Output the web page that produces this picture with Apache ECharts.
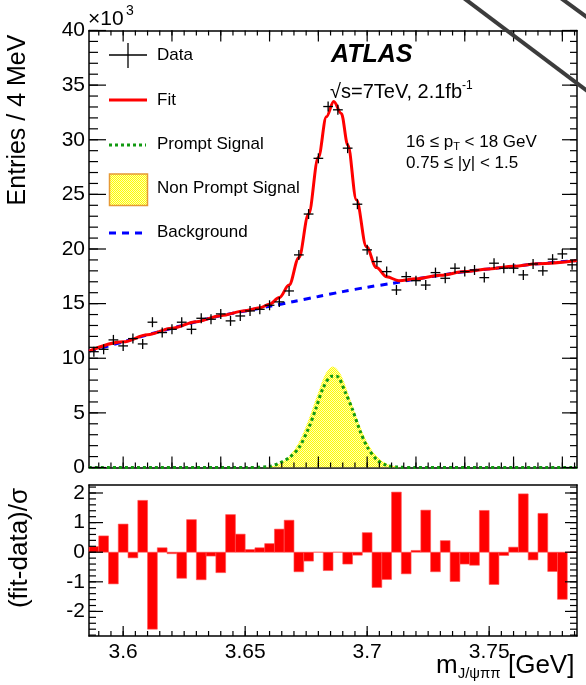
<!DOCTYPE html>
<html><head><meta charset="utf-8">
<script src="https://cdn.jsdelivr.net/npm/echarts@6/dist/echarts.min.js"></script>
<style>html,body{margin:0;padding:0;background:#fff}#c{width:586px;height:685px}</style>
</head><body><div id="c"></div>
<script>
// ---- data ----
const massX = [3.588,3.592,3.596,3.600,3.604,3.608,3.612,3.616,3.620,3.624,3.628,3.632,3.636,3.640,3.644,3.648,3.652,3.656,3.660,3.664,3.668,3.672,3.676,3.680,3.684,3.688,3.692,3.696,3.700,3.704,3.708,3.712,3.716,3.720,3.724,3.728,3.732,3.736,3.740,3.744,3.748,3.752,3.756,3.760,3.764,3.768,3.772,3.776,3.780,3.784];
const dataY = [10.6,10.82,11.68,11.13,11.8,11.31,13.3,12.35,12.65,13.3,12.65,13.66,13.57,14.06,13.42,13.87,14.33,14.48,14.85,15.16,16.16,19.46,23.2,28.3,33.04,32.74,29.23,24.1,19.92,18.85,17.93,16.25,17.47,17.1,16.7,17.84,17.32,18.24,17.93,18.08,17.38,18.7,18.24,18.24,17.63,18.63,18.0,19.07,19.55,18.55];
const residuals = [0.19,0.55,-1.07,0.95,-0.19,1.75,-2.6,0.15,-0.05,-0.88,1.1,-0.93,-0.13,-0.69,1.27,0.61,0.09,0.15,0.29,0.78,1.08,-0.66,-0.3,0,-0.62,0,-0.4,-0.1,0.66,-1.19,-0.92,2.03,-0.73,0.06,1.42,-0.66,0.39,-0.99,-0.4,-0.44,1.41,-1.09,-0.11,0.17,1.97,-0.26,1.31,-0.65,-1.59,0];
const fitX = [3.586,3.600,3.610,3.620,3.630,3.640,3.650,3.656,3.660,3.664,3.668,3.672,3.676,3.680,3.6833,3.6863,3.6894,3.6921,3.6956,3.6997,3.7038,3.708,3.713,3.720,3.730,3.740,3.750,3.760,3.770,3.786];
const fitY = [10.65,11.5,12.15,12.75,13.35,13.9,14.35,14.62,14.95,15.55,16.7,19.2,23.2,28.4,32.1,33.5,32.4,29.5,24.5,20.2,18.3,17.45,17.1,17.27,17.6,17.93,18.18,18.42,18.65,18.94];
const bgX = [3.586,3.600,3.610,3.620,3.630,3.640,3.650,3.660,3.670,3.680,3.690,3.700,3.710,3.720,3.730,3.740,3.750,3.760,3.770,3.786];
const bgY = [10.65,11.5,12.15,12.75,13.35,13.9,14.33,14.75,15.2,15.65,16.1,16.5,16.85,17.25,17.6,17.93,18.18,18.42,18.65,18.94];
const promptX = [3.586,3.650,3.660,3.664,3.668,3.672,3.676,3.679,3.682,3.6855,3.6875,3.691,3.694,3.697,3.700,3.704,3.708,3.712,3.720,3.786];
const promptY = [0,0,0.1,0.4,0.9,1.8,3.6,5.4,7.3,8.35,8.35,6.9,5.3,3.4,1.9,0.7,0.2,0.05,0,0];
const nonPromptX = [3.586,3.656,3.660,3.664,3.668,3.672,3.676,3.680,3.683,3.686,3.689,3.692,3.696,3.700,3.704,3.708,3.712,3.716,3.786];
const nonPromptY = [0,0,0.1,0.35,1.0,2.3,4.4,6.9,8.6,9.25,8.6,6.9,4.4,2.3,1.0,0.35,0.1,0,0];
const xTickLabels = [3.6,3.65,3.7,3.75];
const yTopTicks = [0,5,10,15,20,25,30,35,40];
const resTicks = [-2,-1,0,1,2];

// ---- layout / style ----
const FONT = '"Liberation Sans", Arial, Helvetica, sans-serif';
const X_MIN = 3.586, X_MAX = 3.786, BIN_HALF = 0.002;
const RES_MIN = -2.83, RES_MAX = 2.27;
const G_LEFT = 89, G_WIDTH = 488;
const TOP_Y = 30.5, TOP_H = 437, BOT_Y = 485, BOT_H = 151;
function steps(a, b, s) { const o = []; for (let v = a; v <= b + 1e-9; v += s) o.push(+v.toFixed(4)); return o; }
const xMajorTop = steps(3.60, 3.78, 0.02);
const xMinor = steps(3.590, 3.785, 0.005);
const yTopMinor = steps(0, 40, 1);
const resMinor = steps(-2.8, 2.2, 0.2);
function inList(list) { return v => list.some(t => Math.abs(t - v) < 1e-6); }

const pc = document.createElement('canvas'); pc.width = 2; pc.height = 2;
const pctx = pc.getContext('2d');
pctx.fillStyle = '#ffff00'; pctx.fillRect(0,0,2,2);
pctx.fillStyle = '#fffbb8'; pctx.fillRect(1,0,1,1); pctx.fillRect(0,1,1,1);
const yellowPattern = { image: pc, repeat: 'repeat' };

function axisBase(grid, pos, min, max) {
  return {
    type: 'value', gridIndex: grid, position: pos, min: min, max: max,
    axisLine: { show: true, onZero: false, lineStyle: { color: '#000', width: 1.5 } },
    axisTick: { show: false }, splitLine: { show: false }, axisLabel: { show: false }
  };
}
function withLabels(ax, list, margin) {
  const ok = inList(list);
  ax.axisLabel = { show: true, margin: margin, color: '#000', fontSize: 21, fontFamily: FONT,
    showMinLabel: false, showMaxLabel: false, formatter: v => ok(v) ? String(+v.toFixed(3)) : '' };
  return ax;
}

// ---- axis ticks (inside, mirrored) as graphic lines, placed on the grids' linear scales ----
const tickEls = [];
function xPix(v) { return G_LEFT + (v - X_MIN) / (X_MAX - X_MIN) * G_WIDTH; }
function yTopPix(v) { return TOP_Y + (40 - v) / 40 * TOP_H; }
function yResPix(v) { return BOT_Y + (RES_MAX - v) / (RES_MAX - RES_MIN) * BOT_H; }
function tl(x1, y1, x2, y2) {
  tickEls.push({ type: 'line', z: 60, shape: { x1: x1, y1: y1, x2: x2, y2: y2 }, style: { stroke: '#000', lineWidth: 1.2 } });
}
function xTicks(vals, yLo, yHi, lenLo, lenHi) {
  vals.forEach(v => { const x = xPix(v);
    if (lenLo > 0) tl(x, yLo, x, yLo - lenLo);
    if (lenHi > 0) tl(x, yHi, x, yHi + lenHi); });
}
function yTicks(vals, toPix, lenL, lenR) {
  const xL = G_LEFT, xR = G_LEFT + G_WIDTH;
  vals.forEach(v => { const y = toPix(v);
    if (lenL > 0) tl(xL, y, xL + lenL, y);
    if (lenR > 0) tl(xR, y, xR - lenR, y); });
}
xTicks(xMinor, TOP_Y + TOP_H, TOP_Y, 5, 5);
xTicks(xMajorTop, TOP_Y + TOP_H, TOP_Y, 11, 11);
yTicks(yTopMinor, yTopPix, 9, 7);
yTicks(yTopTicks, yTopPix, 17, 15);
xTicks(xMinor, BOT_Y + BOT_H, BOT_Y, 5, 0);
xTicks(xTickLabels, BOT_Y + BOT_H, BOT_Y, 10, 0);
yTicks(resMinor, yResPix, 7, 7);
yTicks(resTicks, yResPix, 14, 12);

const staticGraphic = [
  // legend
  { type: 'line', shape: { x1: 109, y1: 55, x2: 147, y2: 55 }, style: { stroke: '#000', lineWidth: 1.3 } },
  { type: 'line', shape: { x1: 128, y1: 43, x2: 128, y2: 68 }, style: { stroke: '#000', lineWidth: 1.3 } },
  { type: 'line', shape: { x1: 109, y1: 100, x2: 147, y2: 100 }, style: { stroke: '#ff0000', lineWidth: 3 } },
  { type: 'line', shape: { x1: 109, y1: 145, x2: 146, y2: 145 }, style: { stroke: '#119911', lineWidth: 3, lineDash: [3, 3] } },
  { type: 'rect', shape: { x: 109.5, y: 174, width: 38, height: 31.5 }, style: { fill: yellowPattern, stroke: '#e69a35', lineWidth: 1.5 } },
  { type: 'line', shape: { x1: 109, y1: 233, x2: 146, y2: 233 }, style: { stroke: '#0000ff', lineWidth: 3, lineDash: [7, 6] } },
  { type: 'text', x: 157, y: 55, style: { text: 'Data', font: '17px ' + FONT, fill: '#000', verticalAlign: 'middle' } },
  { type: 'text', x: 157, y: 100, style: { text: 'Fit', font: '17px ' + FONT, fill: '#000', verticalAlign: 'middle' } },
  { type: 'text', x: 157, y: 144.5, style: { text: 'Prompt Signal', font: '17px ' + FONT, fill: '#000', verticalAlign: 'middle' } },
  { type: 'text', x: 157, y: 188.5, style: { text: 'Non Prompt Signal', font: '17px ' + FONT, fill: '#000', verticalAlign: 'middle' } },
  { type: 'text', x: 157, y: 232.5, style: { text: 'Background', font: '17px ' + FONT, fill: '#000', verticalAlign: 'middle' } },
  // annotations
  { type: 'text', x: 331, y: 55, style: { text: 'ATLAS', font: 'italic bold 25px ' + FONT, fill: '#000', verticalAlign: 'middle' } },
  { type: 'text', x: 330, y: 80, style: { text: '{a|√s=7TeV, 2.1fb}{b|-1}', fill: '#000', verticalAlign: 'top',
      rich: { a: { fontSize: 20, lineHeight: 24, fontFamily: FONT, fill: '#000' }, b: { fontSize: 12, lineHeight: 12, verticalAlign: 'top', fontFamily: FONT, fill: '#000' } } } },
  { type: 'text', x: 406, y: 132, style: { text: '{a|16 ≤ p}{s|T}{a| < 18 GeV}', fill: '#000', verticalAlign: 'top',
      rich: { a: { fontSize: 17, lineHeight: 20, fontFamily: FONT, fill: '#000' }, s: { fontSize: 11, lineHeight: 11, verticalAlign: 'bottom', fontFamily: FONT, fill: '#000' } } } },
  { type: 'text', x: 406, y: 163, style: { text: '0.75 ≤ |y| < 1.5', font: '17px ' + FONT, fill: '#000', verticalAlign: 'middle' } },
  { type: 'text', x: 88, y: 19, style: { text: '×10', font: '21px ' + FONT, fill: '#000', verticalAlign: 'middle' } },
  { type: 'text', x: 126, y: 11, style: { text: '3', font: '14px ' + FONT, fill: '#000', verticalAlign: 'middle' } },
  { type: 'text', x: 18, y: 120, rotation: Math.PI / 2, style: { text: 'Entries / 4 MeV', font: '25px ' + FONT, fill: '#000', align: 'center', verticalAlign: 'middle' } },
  { type: 'text', x: 20, y: 548, rotation: Math.PI / 2, style: { text: '(fit-data)/σ', font: '26px ' + FONT, fill: '#000', align: 'center', verticalAlign: 'middle' } },
  { type: 'text', x: 436, y: 651, style: { text: '{a|m}{s|J/ψππ}{a| [GeV]}', fill: '#000', verticalAlign: 'top',
      rich: { a: { fontSize: 26, lineHeight: 30, fontFamily: FONT, fill: '#000' }, s: { fontSize: 15, lineHeight: 15, verticalAlign: 'bottom', fontFamily: FONT, fill: '#000' } } } }
].concat(tickEls).concat([
  // diagonal scan lines
  { type: 'line', z: 100, shape: { x1: 461, y1: -4, x2: 592, y2: 94.5 }, style: { stroke: '#3c3c3c', lineWidth: 4 } },
  { type: 'line', z: 100, shape: { x1: 558, y1: -4, x2: 592, y2: 21 }, style: { stroke: '#3c3c3c', lineWidth: 4 } }
]);

const yTopLeft = withLabels(axisBase(0, 'left', 0, 40), yTopTicks, 4);
yTopLeft.interval = 5; yTopLeft.axisLabel.showMinLabel = true; yTopLeft.axisLabel.showMaxLabel = true;
const yTopRight = axisBase(0, 'right', 0, 40); yTopRight.interval = 5;

const option = {
  animation: false,
  backgroundColor: '#fff',
  grid: [
    { left: G_LEFT, width: G_WIDTH, top: TOP_Y, height: TOP_H },
    { left: G_LEFT, width: G_WIDTH, top: BOT_Y, height: BOT_H }
  ],
  xAxis: [
    axisBase(0, 'bottom', X_MIN, X_MAX),
    axisBase(0, 'top', X_MIN, X_MAX),
    withLabels(axisBase(1, 'bottom', X_MIN, X_MAX), xTickLabels, 6),
    axisBase(1, 'top', X_MIN, X_MAX)
  ],
  yAxis: [
    yTopLeft,
    yTopRight,
    withLabels(axisBase(1, 'left', RES_MIN, RES_MAX), resTicks, 4),
    axisBase(1, 'right', RES_MIN, RES_MAX)
  ],
  series: [
    { type: 'line', xAxisIndex: 0, yAxisIndex: 0, data: nonPromptX.map((x, i) => [x, nonPromptY[i]]),
      showSymbol: false, smooth: 0.3, lineStyle: { width: 0 }, areaStyle: { color: yellowPattern, opacity: 1 }, z: 2 },
    { type: 'line', xAxisIndex: 0, yAxisIndex: 0, data: promptX.map((x, i) => [x, promptY[i]]),
      showSymbol: false, smooth: 0.3, lineStyle: { color: '#119911', width: 3, type: [3, 3] }, z: 3 },
    { type: 'line', xAxisIndex: 0, yAxisIndex: 0, data: bgX.map((x, i) => [x, bgY[i]]),
      showSymbol: false, smooth: 0.3, lineStyle: { color: '#0000ff', width: 3, type: [7, 6] }, z: 3 },
    { type: 'line', xAxisIndex: 0, yAxisIndex: 0, data: fitX.map((x, i) => [x, fitY[i]]),
      showSymbol: false, smooth: 0.35, smoothMonotone: 'x', lineStyle: { color: '#ff0000', width: 3 }, z: 4 },
    { type: 'custom', xAxisIndex: 0, yAxisIndex: 0, z: 5,
      data: massX.map((x, i) => [x, dataY[i]]),
      renderItem: function (params, api) {
        const x = api.value(0), y = api.value(1);
        const l = api.coord([x - BIN_HALF, y]), r = api.coord([x + BIN_HALF, y]), c = api.coord([x, y]);
        return { type: 'group', children: [
          { type: 'line', shape: { x1: l[0], y1: l[1], x2: r[0], y2: r[1] }, style: { stroke: '#000', lineWidth: 1.3 } },
          { type: 'line', shape: { x1: c[0], y1: c[1] - 5, x2: c[0], y2: c[1] + 5 }, style: { stroke: '#000', lineWidth: 1.3 } }
        ] };
      } },
    { type: 'custom', xAxisIndex: 2, yAxisIndex: 2, z: 3,
      data: massX.map((x, i) => [x, residuals[i]]),
      renderItem: function (params, api) {
        const x = api.value(0), v = api.value(1);
        const a = api.coord([x - BIN_HALF, 0]), b = api.coord([x + BIN_HALF, v]);
        return { type: 'rect', shape: { x: a[0], y: Math.min(a[1], b[1]), width: b[0] - a[0], height: Math.abs(b[1] - a[1]) },
                 style: { fill: '#ff0000', stroke: '#ff5050', lineWidth: 0.6 } };
      } }
  ],
  graphic: staticGraphic
};
const chart = echarts.init(document.getElementById('c'), null, { renderer: 'canvas' });
chart.setOption(option);
</script>
</body></html>
